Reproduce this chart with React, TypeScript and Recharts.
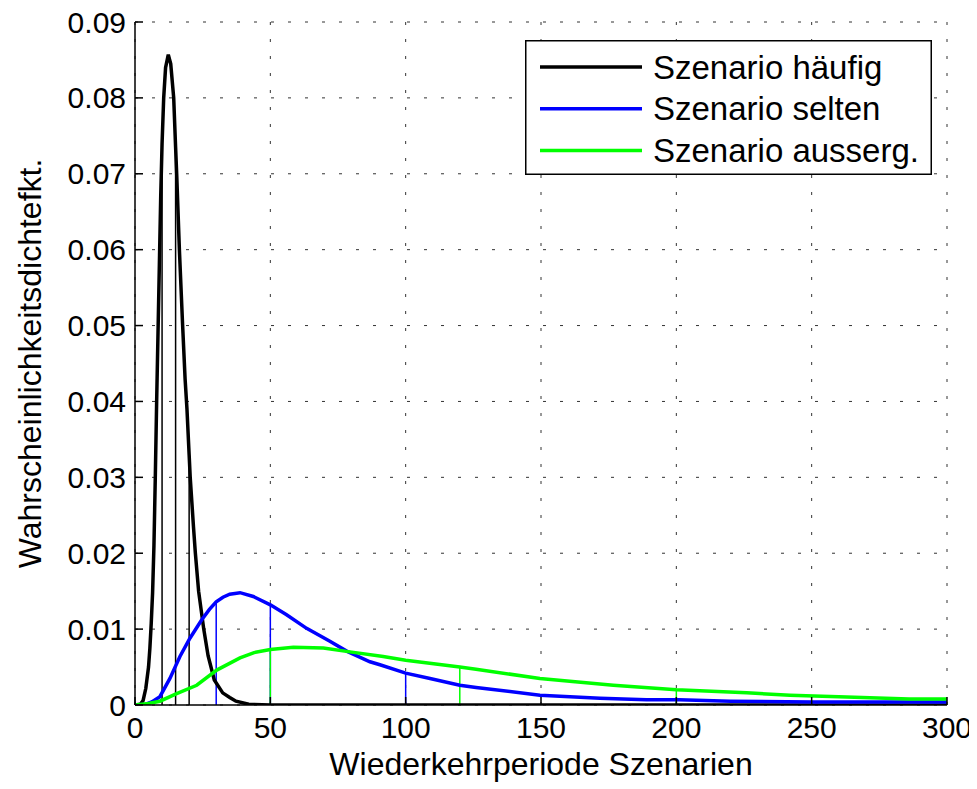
import React from 'react';
import { LineChart, Line, XAxis, YAxis, CartesianGrid, Legend, ReferenceLine } from 'recharts';

const FONT = '"Liberation Sans", Arial, Helvetica, sans-serif';

// Scenario "häufig" (black)
const haeufigX = [0, 2, 3, 4, 5, 5.5, 6, 6.5, 7, 7.5, 8, 8.5, 9, 9.5, 10, 10.6, 11.3, 12.3, 13.2, 14.3, 15, 15.4, 16.4, 17.6, 18.5, 19.2, 20, 20.4, 21.6, 22.3, 23.5, 25.4, 27, 29.3, 32.4, 35, 37.3, 42, 50, 300];
const haeufigY = [0, 0.0001, 0.0006, 0.0022, 0.005, 0.0075, 0.0108, 0.0148, 0.021, 0.03, 0.04, 0.049, 0.058, 0.067, 0.074, 0.08, 0.084, 0.0857, 0.0845, 0.08, 0.0735, 0.07, 0.06, 0.05, 0.043, 0.039, 0.033, 0.03, 0.0235, 0.02, 0.015, 0.01, 0.0065, 0.0033, 0.0016, 0.001, 0.0005, 0.0001, 0, 0];

// Scenario "selten" (blue)
const seltenX = [0, 4, 6.2, 9.2, 12.9, 16.6, 20.3, 24.6, 27.5, 30, 32.5, 35, 38.8, 43.7, 50, 56, 63.4, 72, 78.2, 86.8, 90.5, 100, 109, 120, 126, 149.6, 171.8, 189, 201, 220, 250, 300];
const seltenY = [0, 0.0001, 0.0004, 0.0011, 0.0035, 0.0064, 0.0088, 0.0112, 0.0126, 0.0136, 0.0142, 0.0146, 0.0148, 0.0143, 0.0132, 0.0119, 0.0101, 0.0084, 0.0071, 0.0057, 0.0053, 0.0042, 0.0035, 0.0026, 0.0023, 0.0013, 0.0009, 0.0007, 0.0007, 0.0005, 0.0004, 0.0004];

// Scenario "ausserg." (green)
const aussergX = [0, 5, 9.2, 15.4, 22.8, 30.2, 38.8, 44, 50, 58.5, 69.6, 79.4, 91.7, 100, 120, 126, 149.6, 176.7, 200, 226, 242, 260, 286, 300];
const aussergY = [0, 0.0002, 0.0005, 0.0015, 0.0026, 0.0046, 0.0062, 0.0069, 0.0073, 0.0076, 0.0075, 0.007, 0.0064, 0.0059, 0.005, 0.0047, 0.0035, 0.0026, 0.002, 0.0016, 0.0013, 0.0011, 0.0008, 0.0008];

// Vertical marker lines (x, height)
const markHaeufigX = [10, 15, 20];
const markHaeufigY = [0.074, 0.0735, 0.033];
const markSeltenX = [30, 50, 100];
const markSeltenY = [0.0136, 0.0132, 0.0042];
const markAussergX = [50, 120, 200];
const markAussergY = [0.0073, 0.005, 0.002];

const xTicks = [0, 50, 100, 150, 200, 250, 300];
const yTicks = [0, 0.01, 0.02, 0.03, 0.04, 0.05, 0.06, 0.07, 0.08, 0.09];

const names = ['Szenario häufig', 'Szenario selten', 'Szenario ausserg.'];
const colors = ['#000000', '#0000ff', '#00ff00'];

const zip = (xs: number[], ys: number[]) => xs.map((x, i) => ({ x, y: ys[i] }));
const dataH = zip(haeufigX, haeufigY);
const dataS = zip(seltenX, seltenY);
const dataA = zip(aussergX, aussergY);

const TICK_LEN = 8;
const TICK_FS = 30;

const XTickBottom = (props: any) => {
  const { x, y, payload } = props;
  return (
    <g>
      <line x1={x} x2={x} y1={y} y2={y - TICK_LEN} stroke="#000" strokeWidth={1.5} />
      <text x={x} y={y + 33} textAnchor="middle" fontSize={TICK_FS} fontFamily={FONT} fill="#000">
        {String(payload.value)}
      </text>
    </g>
  );
};

const XTickTop = (props: any) => {
  const { x, y } = props;
  return <line x1={x} x2={x} y1={y} y2={y + TICK_LEN} stroke="#000" strokeWidth={1.5} />;
};

const YTickLeft = (props: any) => {
  const { x, y, payload } = props;
  const v = payload.value as number;
  const label = v === 0 ? '0' : v.toFixed(2);
  return (
    <g>
      <line x1={x} x2={x + TICK_LEN} y1={y} y2={y} stroke="#000" strokeWidth={1.5} />
      <text x={x - 9} y={y} textAnchor="end" dominantBaseline="central" fontSize={TICK_FS} fontFamily={FONT} fill="#000">
        {label}
      </text>
    </g>
  );
};

const YTickRight = (props: any) => {
  const { x, y } = props;
  return <line x1={x} x2={x - TICK_LEN} y1={y} y2={y} stroke="#000" strokeWidth={1.5} />;
};

const YLabel = (props: any) => {
  const vb = props.viewBox || { x: 0, y: 0, width: 0, height: 0 };
  const cx = vb.x + 22;
  const cy = vb.y + vb.height / 2;
  return (
    <text x={cx} y={cy} transform={`rotate(-90 ${cx} ${cy})`} textAnchor="middle" dominantBaseline="central" fontSize={32} fontFamily={FONT} fill="#000">
      Wahrscheinlichkeitsdichtefkt.
    </text>
  );
};

const XLabel = (props: any) => {
  const vb = props.viewBox || { x: 0, y: 0, width: 0, height: 0 };
  const cx = vb.x + vb.width / 2;
  return (
    <text x={cx} y={vb.y + 70} textAnchor="middle" fontSize={32} fontFamily={FONT} fill="#000">
      Wiederkehrperiode Szenarien
    </text>
  );
};

const LegendBox = (props: any) => {
  const payload = ([...(props.payload || [])] as any[]).sort(
    (a, b) => names.indexOf(a.value) - names.indexOf(b.value)
  );
  const W = 407;
  const H = 135;
  return (
    <svg width={W} height={H} style={{ display: 'block' }}>
      <rect x={0.75} y={0.75} width={W - 1.5} height={H - 1.5} fill="#fff" stroke="#000" strokeWidth={1.5} />
      {payload.map((p, i) => {
        const ry = 27 + i * 41.7;
        return (
          <g key={i}>
            <line x1={15} x2={117} y1={ry} y2={ry} stroke={p.color} strokeWidth={3.5} />
            <text x={128} y={ry} dominantBaseline="central" fontSize={33} fontFamily={FONT} fill="#000">
              {p.value}
            </text>
          </g>
        );
      })}
    </svg>
  );
};

export default function App() {
  return (
    <div style={{ width: 969, height: 789, marginTop: -8, background: '#fff' }}>
      <LineChart width={969} height={789} margin={{ top: 22, right: 30, bottom: 0, left: 0 }}>
        <CartesianGrid xAxisId="b" yAxisId="l" stroke="#333" strokeDasharray="3 14" fill="none" />
        <XAxis
          xAxisId="b"
          type="number"
          dataKey="x"
          domain={[0, 300]}
          ticks={xTicks}
          interval={0}
          allowDataOverflow
          height={84}
          tickSize={0}
          tickMargin={0}
          tickLine={false}
          axisLine={{ stroke: '#000', strokeWidth: 1.5 }}
          tick={<XTickBottom />}
          label={<XLabel />}
        />
        <XAxis
          xAxisId="t"
          orientation="top"
          type="number"
          dataKey="x"
          domain={[0, 300]}
          ticks={xTicks}
          interval={0}
          allowDataOverflow
          height={0}
          tickSize={0}
          tickMargin={0}
          tickLine={false}
          axisLine={{ stroke: '#000', strokeWidth: 1.5 }}
          tick={<XTickTop />}
        />
        <YAxis
          yAxisId="l"
          type="number"
          domain={[0, 0.09]}
          ticks={yTicks}
          interval={0}
          allowDataOverflow
          width={127}
          tickSize={0}
          tickMargin={0}
          tickLine={false}
          axisLine={{ stroke: '#000', strokeWidth: 1.5 }}
          tick={<YTickLeft />}
          label={<YLabel />}
        />
        <YAxis
          yAxisId="r"
          orientation="right"
          type="number"
          domain={[0, 0.09]}
          ticks={yTicks}
          interval={0}
          allowDataOverflow
          width={0}
          tickSize={0}
          tickMargin={0}
          tickLine={false}
          axisLine={{ stroke: '#000', strokeWidth: 1.5 }}
          tick={<YTickRight />}
        />
        {markHaeufigX.map((x, i) => (
          <ReferenceLine key={'h' + i} xAxisId="b" yAxisId="l" segment={[{ x, y: 0 }, { x, y: markHaeufigY[i] }]} stroke={colors[0]} strokeWidth={1.5} />
        ))}
        {markSeltenX.map((x, i) => (
          <ReferenceLine key={'s' + i} xAxisId="b" yAxisId="l" segment={[{ x, y: 0 }, { x, y: markSeltenY[i] }]} stroke={colors[1]} strokeWidth={1.5} />
        ))}
        {markAussergX.map((x, i) => (
          <ReferenceLine key={'a' + i} xAxisId="b" yAxisId="l" segment={[{ x, y: 0 }, { x, y: markAussergY[i] }]} stroke={colors[2]} strokeWidth={1.5} />
        ))}
        <Line xAxisId="b" yAxisId="l" data={dataH} dataKey="y" name={names[0]} stroke={colors[0]} strokeWidth={3.5} dot={false} activeDot={false} type="linear" isAnimationActive={false} />
        <Line xAxisId="b" yAxisId="l" data={dataS} dataKey="y" name={names[1]} stroke={colors[1]} strokeWidth={3.5} dot={false} activeDot={false} type="linear" isAnimationActive={false} />
        <Line xAxisId="b" yAxisId="l" data={dataA} dataKey="y" name={names[2]} stroke={colors[2]} strokeWidth={3.5} dot={false} activeDot={false} type="linear" isAnimationActive={false} />
        <Legend
          layout="horizontal"
          verticalAlign="middle"
          align="center"
          wrapperStyle={{ top: 40, left: 517, width: 407, height: 135 }}
          content={<LegendBox />}
        />
      </LineChart>
    </div>
  );
}
